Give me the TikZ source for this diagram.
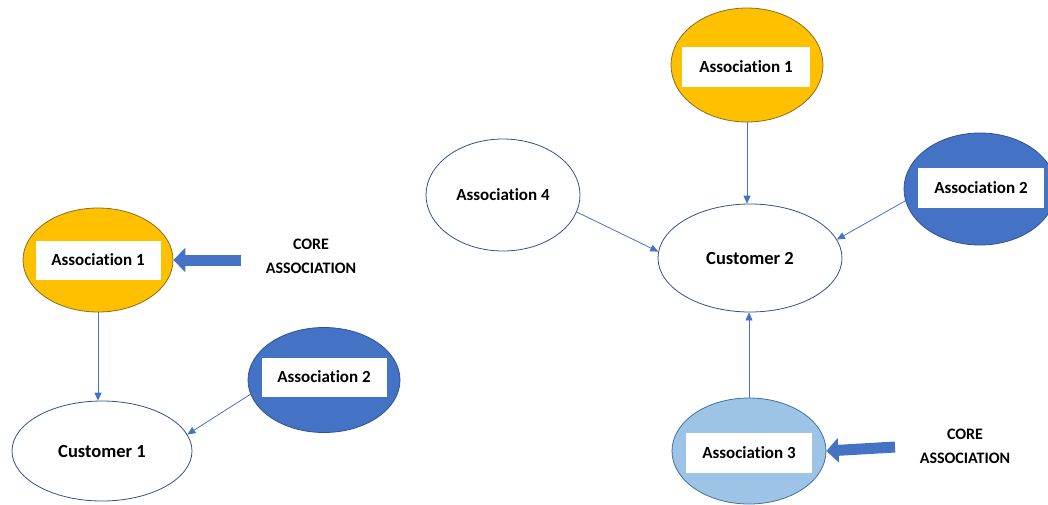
\documentclass[tikz,border=0pt]{standalone}
\usepackage{fontspec}
\setmainfont{Carlito}[Ligatures=NoCommon]
\usetikzlibrary{shapes.geometric,arrows.meta}
\definecolor{gold}{HTML}{FFC000}
\definecolor{goldline}{HTML}{8C6D1F}
\definecolor{blueone}{HTML}{4472C4}
\definecolor{blueline}{HTML}{2F528F}
\definecolor{lightblue}{HTML}{9DC3E6}
\definecolor{lightline}{HTML}{41719C}

\begin{document}
\begin{tikzpicture}[x=1pt,y=-1pt,
  oval/.style={ellipse,draw=blueline,line width=0.8pt,fill=white,inner sep=0pt},
  tag/.style={fill=white,inner sep=0pt,minimum width=125pt,minimum height=39pt,
    font=\bfseries\fontsize{17}{20}\selectfont},
  cust/.style={font=\bfseries\fontsize{18.5}{21}\selectfont},
  link/.style={draw=blueone,line width=0.8pt,-{Triangle[length=8pt,width=7pt]}},
  core/.style={draw=blueone,line width=11pt,-{Triangle[length=12pt,width=24pt]}},
  note/.style={align=center,font=\bfseries\fontsize{16}{24}\selectfont}]
\useasboundingbox (0,0) rectangle (1048,504);
\clip (0,0) rectangle (1048,504);

% left group
\node[oval,fill=gold,draw=goldline,minimum width=150pt,minimum height=104pt] (a1L) at (98,260) {};
\node[tag] (t1L) at (a1L) {Association 1};
\node[oval,fill=blueone,minimum width=152pt,minimum height=105pt] (a2L) at (324,380) {};
\node[tag] (t2L) at (324,377) {Association 2};
\node[oval,cust,minimum width=180pt,minimum height=100pt] (c1) at (102,451) {Customer 1};
\node[note] (n1) at (311,256) {CORE\\ASSOCIATION};
\coordinate (k1) at (241,260);

\draw[link] (a1L.south) -- (a1L.south |- c1.north);
\draw[link] (a2L.191) -- (c1.11);
\draw[core] (k1) -- (a1L.east);

% right group
\node[oval,fill=gold,draw=goldline,minimum width=152pt,minimum height=114pt] (a1R) at (747,65) {};
\node[tag,minimum width=128pt,minimum height=40pt] (t1R) at (746,67) {Association 1};
\node[oval,font=\bfseries\fontsize{17}{20}\selectfont,minimum width=154pt,minimum height=112pt] (a4R) at (503,195) {Association 4};
\node[oval,cust,minimum width=184pt,minimum height=108pt] (c2) at (750,258) {Customer 2};
\node[oval,fill=blueone,minimum width=152pt,minimum height=112pt] (a2R) at (980,189) {};
\node[tag,minimum width=126pt,minimum height=40pt] (t2R) at (981,188) {Association 2};
\node[oval,fill=lightblue,draw=lightline,minimum width=154pt,minimum height=106pt] (a3R) at (749,451) {};
\node[tag,minimum width=126pt,minimum height=40pt] (t3R) at (749,453) {Association 3};
\node[note] (n2) at (965,446) {CORE\\ASSOCIATION};
\coordinate (k2) at (895,447);

\draw[link] (a1R.south) -- (a1R.south |- c2.north);
\draw[link] (a4R.347) -- (c2.176);
\draw[link] (a2R.189) -- (c2.12);
\draw[link] (a3R.north) -- (a3R.north |- c2.south);
\draw[core] (k2) -- (a3R.east);
\end{tikzpicture}
\end{document}
